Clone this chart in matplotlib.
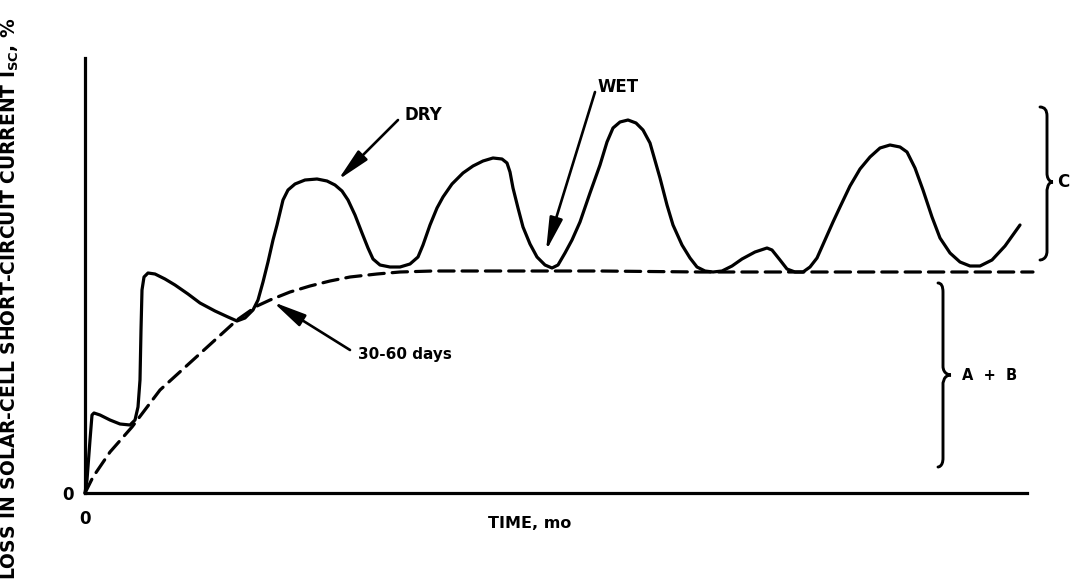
import numpy as np
import matplotlib
matplotlib.use('Agg')
import matplotlib.pyplot as plt
from matplotlib.path import Path
from matplotlib.patches import PathPatch

# schematic curve, arbitrary units (time along x, loss along y)
t_meas = [0, 2, 5, 7, 9, 15, 25, 35, 45, 50, 53, 55, 56, 57, 59, 63, 70, 80, 90, 103,
          115, 130, 143, 152, 160, 168, 173, 178, 183, 188, 192, 198, 203, 210, 220, 232,
          242, 250, 257, 263, 270, 277, 283, 288, 295, 305, 315, 325, 333, 338, 345, 352,
          358, 367, 378, 388, 398, 408, 417, 422, 425, 428, 433, 438, 445, 452, 460, 467,
          473, 480, 487, 495, 505, 515, 522, 528, 535, 543, 551, 558, 565, 575, 582, 588,
          597, 605, 612, 620, 628, 637, 647, 657, 670, 682, 687, 695, 702, 710, 718, 725,
          732, 740, 748, 755, 765, 775, 785, 795, 805, 815, 822, 830, 838, 847, 855, 865,
          875, 885, 895, 907, 920, 935]
loss_meas = [0, 13, 53, 78, 80, 78, 73, 69, 68, 73, 86, 113, 163, 203, 216, 220, 219, 214,
             208, 199, 190, 182, 176, 172, 175, 183, 193, 211, 231, 253, 268, 293, 303, 309,
             313, 314, 312, 308, 302, 293, 278, 260, 245, 234, 228, 226, 226, 229, 236, 248,
             268, 285, 296, 309, 320, 327, 332, 335, 334, 330, 321, 305, 285, 266, 249, 236,
             228, 225, 228, 240, 253, 271, 300, 328, 351, 365, 371, 373, 370, 363, 350, 315,
             288, 268, 248, 235, 226, 222, 221, 222, 227, 234, 241, 245, 243, 233, 224, 221,
             221, 226, 235, 253, 271, 286, 307, 324, 336, 345, 348, 346, 341, 325, 303, 276,
             255, 240, 231, 227, 227, 233, 247, 268]

# A + B trend (30-60 days to level off)
t_trend = [0, 8, 25, 47, 75, 108, 130, 152, 172, 185, 205, 225, 245, 265, 292, 315, 348,
           415, 515, 615, 715, 815, 948]
loss_trend = [0, 16, 41, 66, 103, 133, 153, 173, 187, 193, 201, 207, 212, 216, 219, 221,
              222, 222, 222, 221, 221, 221, 221]

fig = plt.figure(figsize=(10.72, 5.84), dpi=100)
ax = fig.add_axes([85 / 1072, 91 / 584, 942 / 1072, 435 / 584])
ax.set_xlim(0, 942)
ax.set_ylim(0, 435)

ax.plot(t_meas, loss_meas, color='black', lw=2.3, solid_capstyle='round',
        solid_joinstyle='round', clip_on=False)
ax.plot(t_trend, loss_trend, color='black', lw=2.3, dashes=(4.8, 2.5),
        dash_capstyle='round', clip_on=False)

for s in ['top', 'right']:
    ax.spines[s].set_visible(False)
for s in ['left', 'bottom']:
    ax.spines[s].set_linewidth(2.3)
ax.set_xticks([0])
ax.set_yticks([0])
ax.set_xticklabels(['0'], fontweight='bold', fontsize=12)
ax.set_yticklabels(['0'], fontweight='bold', fontsize=12)
ax.tick_params(axis='both', length=0)
ax.tick_params(axis='x', pad=12)
ax.tick_params(axis='y', pad=8)

arrow = dict(arrowstyle='-|>,head_length=1.0,head_width=0.2', color='black',
             lw=1.9, mutation_scale=20, shrinkA=0, shrinkB=0)
ax.annotate('', xy=(253, 313), xytext=(313, 373), arrowprops=arrow)
ax.text(320, 378, 'DRY', fontsize=12, fontweight='bold', va='center', ha='left')
ax.annotate('', xy=(461, 242), xytext=(510, 401), arrowprops=arrow)
ax.text(513, 406, 'WET', fontsize=12, fontweight='bold', va='center', ha='left')
ax.annotate('', xy=(188, 191), xytext=(265, 143), arrowprops=arrow)
ax.text(273, 138, '30-60 days', fontsize=11, fontweight='bold', va='center', ha='left')

ax.text(403, -30, 'TIME, mo', fontsize=11.5, fontweight='bold', va='center', ha='left')


def brace(x_end, x_stem, x_tip, y_top, y_bot, y_mid, r=9):
    verts = [(x_end, y_top), (x_stem, y_top), (x_stem, y_top - r),
             (x_stem, y_mid + r),
             (x_stem, y_mid), (x_tip, y_mid), (x_tip, y_mid),
             (x_stem, y_mid), (x_stem, y_mid - r), (x_stem, y_mid - r),
             (x_stem, y_bot + r),
             (x_stem, y_bot), (x_end, y_bot), (x_end, y_bot)]
    codes = [Path.MOVETO, Path.CURVE3, Path.CURVE3, Path.LINETO,
             Path.CURVE4, Path.CURVE4, Path.CURVE4,
             Path.CURVE4, Path.CURVE4, Path.CURVE4,
             Path.LINETO,
             Path.CURVE4, Path.CURVE4, Path.CURVE4]
    ax.add_patch(PathPatch(Path(verts, codes), fill=False, lw=2.1, color='black',
                           clip_on=False, capstyle='round'))


brace(955, 962, 968, 386, 233, 311)
ax.text(972, 311, 'C', fontsize=12, fontweight='bold', va='center', ha='left', clip_on=False)
brace(853, 858, 866, 210, 26, 118)
ax.text(877, 118, 'A  +  B', fontsize=10.5, fontweight='bold', va='center', ha='left')

fig.text(10 / 1072, (584 - 299) / 584,
         r'LOSS IN SOLAR-CELL SHORT-CIRCUIT CURRENT I$_\mathbf{SC}$, %',
         rotation=90, fontsize=13.5, fontweight='bold', va='center', ha='center')

fig.savefig('out.png', dpi=100, facecolor='white')
